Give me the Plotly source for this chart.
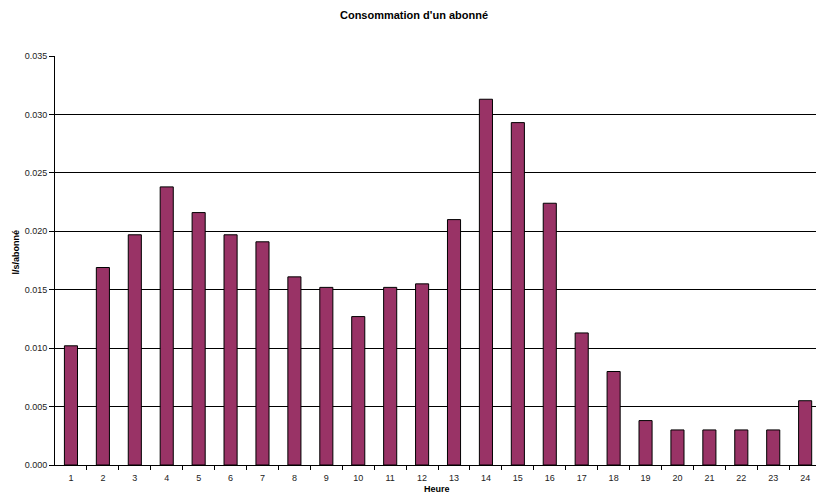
import plotly.graph_objects as go

# Hourly consumption per subscriber (l/s/abonné)
heures = list(range(1, 25))
consommation = [0.0102, 0.0169, 0.0197, 0.0238, 0.0216, 0.0197, 0.0191, 0.0161,
                0.0152, 0.0127, 0.0152, 0.0155, 0.0210, 0.0313, 0.0293, 0.0224,
                0.0113, 0.0080, 0.0038, 0.0030, 0.0030, 0.0030, 0.0030, 0.0055]
y_ticks = [0.000, 0.005, 0.010, 0.015, 0.020, 0.025, 0.030, 0.035]

FONT = "Liberation Sans, Arial, sans-serif"

fig = go.Figure()
fig.add_trace(go.Bar(
    x=heures,
    y=consommation,
    width=0.41,
    marker=dict(color="#993366", line=dict(color="#000000", width=1)),
    hoverinfo="x+y",
))

fig.update_layout(
    width=816,
    height=495,
    margin=dict(l=55, r=0, t=56, b=30),
    paper_bgcolor="white",
    plot_bgcolor="white",
    showlegend=False,
    font=dict(family=FONT, size=9, color="#222222"),
    title=dict(
        text="<b>Consommation d'un abonné</b>",
        font=dict(family=FONT, size=11, color="#000000"),
        xref="container", x=414 / 816, xanchor="center",
        yref="container", y=1 - 15 / 495, yanchor="middle",
    ),
    xaxis=dict(
        range=[0.5, 24.34],
        tickmode="array",
        tickvals=heures,
        ticktext=[str(h) for h in heures],
        ticks="",
        ticklen=0,
        ticklabelstandoff=4,
        showgrid=False,
        zeroline=False,
        showline=True,
        linecolor="#000000",
        linewidth=1,
        tickfont=dict(family=FONT, size=9, color="#222222"),
        minor=dict(
            tickmode="array",
            tickvals=[h + 0.5 for h in heures],
            ticks="outside",
            ticklen=4,
            tickcolor="#000000",
            tickwidth=1,
            showgrid=False,
        ),
        fixedrange=True,
    ),
    yaxis=dict(
        range=[0, 0.035],
        tickmode="array",
        tickvals=y_ticks,
        tickformat=".3f",
        ticks="outside",
        ticklen=5,
        tickcolor="#000000",
        showgrid=True,
        gridcolor="#000000",
        gridwidth=1,
        zeroline=False,
        showline=True,
        linecolor="#000000",
        linewidth=1,
        tickfont=dict(family=FONT, size=9, color="#222222"),
        fixedrange=True,
    ),
    annotations=[
        dict(
            text="<b>l/s/abonné</b>",
            textangle=-90,
            xref="paper", x=0, xshift=-40, xanchor="center",
            yref="paper", y=0.5, yshift=8, yanchor="middle",
            showarrow=False,
            font=dict(family=FONT, size=9, color="#000000"),
        ),
        dict(
            text="<b>Heure</b>",
            xref="paper", x=(437 - 55) / 761, xanchor="center",
            yref="paper", y=0, yshift=-24, yanchor="middle",
            showarrow=False,
            font=dict(family=FONT, size=9, color="#000000"),
        ),
    ],
)

fig.write_html("out.html")
